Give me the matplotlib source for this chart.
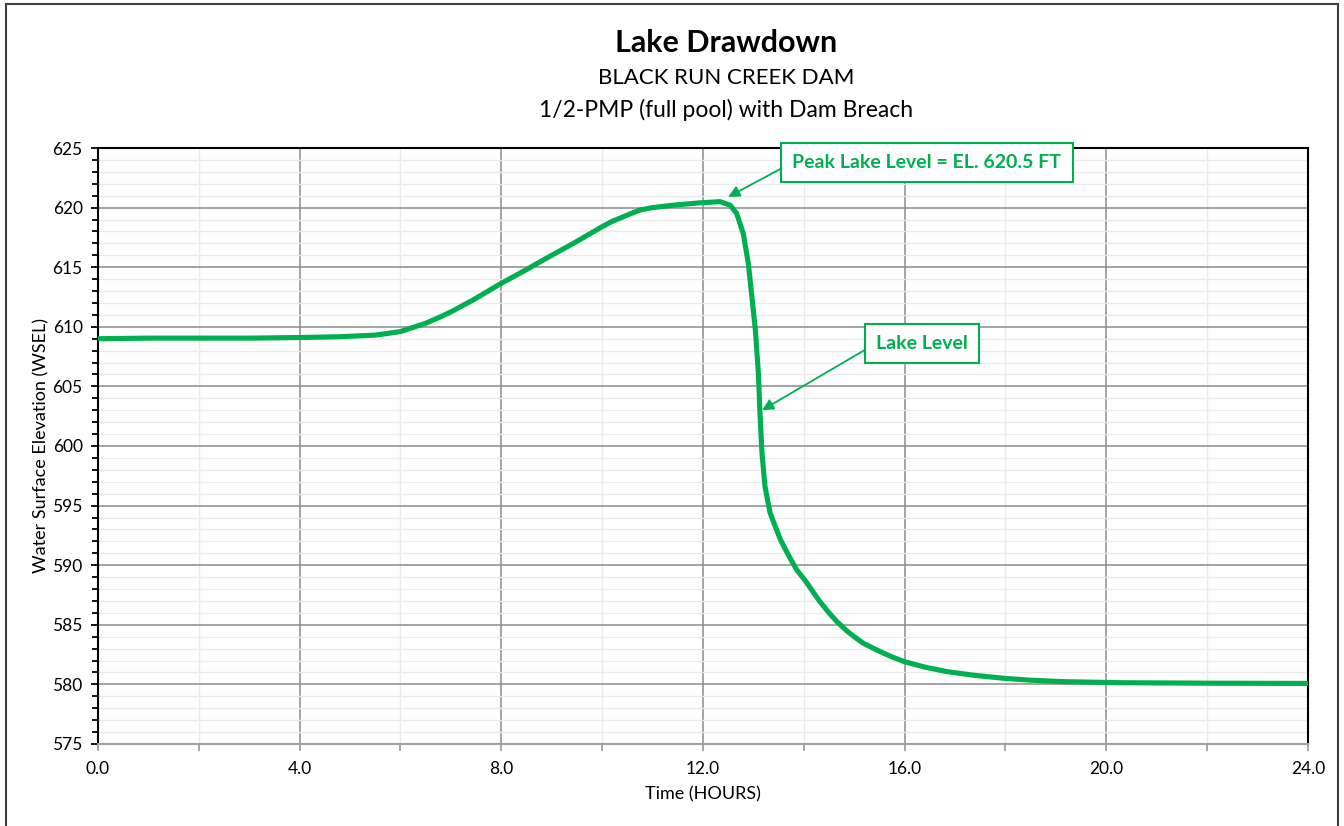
import matplotlib
matplotlib.use('Agg')
import matplotlib.pyplot as plt
from matplotlib.ticker import MultipleLocator, FormatStrFormatter
from matplotlib.lines import Line2D

plt.rcParams['font.family'] = ['Lato', 'DejaVu Sans']

# Lake level
hours = [0, 1, 2, 3, 4, 4.8, 5.5, 6.0, 6.5, 6.8, 7.0, 7.44, 8.0, 8.5, 8.77, 9.0,
         9.43, 10.0, 10.2, 10.4, 10.6, 10.75, 11.0, 11.4, 11.94, 12.34, 12.54,
         12.67, 12.8, 12.9, 12.97, 13.04, 13.1, 13.13, 13.17, 13.23, 13.33,
         13.53, 13.7, 13.86, 14.03, 14.3, 14.5, 14.66, 14.85, 15.0, 15.18, 15.5,
         15.75, 16.0, 16.4, 16.84, 17.4, 18.0, 18.5, 19.15, 20.3, 22, 24]
wsel = [609.0, 609.05, 609.05, 609.05, 609.1, 609.17, 609.3, 609.6, 610.3, 610.85,
        611.25, 612.25, 613.65, 614.8, 615.46, 616.0, 617.0, 618.4, 618.85, 619.2,
        619.55, 619.8, 620.0, 620.2, 620.4, 620.5, 620.2, 619.5, 617.8, 615.3,
        612.5, 609.7, 606.0, 602.8, 599.4, 596.6, 594.4, 592.2, 590.8, 589.6,
        588.7, 587.05, 586.0, 585.25, 584.5, 584.0, 583.45, 582.78, 582.3, 581.9,
        581.45, 581.07, 580.75, 580.5, 580.35, 580.23, 580.14, 580.1, 580.08]

peak_label = 'Peak Lake Level = EL. 620.5 FT'
peak_xy = (12.5, 620.9)
peak_text_xy = (16.44, 623.78)
level_label = 'Lake Level'
level_xy = (13.17, 603.0)
level_text_xy = (16.34, 608.6)

green = '#00B050'

fig = plt.figure(figsize=(13.44, 8.26), dpi=100)
ax = fig.add_axes([0.0729, 0.0993, 0.9003, 0.7215])

ax.plot(hours, wsel, color=green, lw=3.7, solid_joinstyle='round', zorder=3)

ax.set_xlim(0, 24)
ax.set_ylim(575, 625)
ax.xaxis.set_major_locator(MultipleLocator(4))
ax.xaxis.set_minor_locator(MultipleLocator(2))
ax.yaxis.set_major_locator(MultipleLocator(5))
ax.yaxis.set_minor_locator(MultipleLocator(1))
ax.xaxis.set_major_formatter(FormatStrFormatter('%.1f'))

ax.set_axisbelow(True)
ax.grid(which='major', axis='both', color='#8c8c8c', lw=1.1)
ax.grid(which='minor', axis='both', color='#ebebeb', lw=1.0)

for side in ['left', 'top', 'right']:
    ax.spines[side].set_color('black')
    ax.spines[side].set_linewidth(1.5)
ax.spines['bottom'].set_color('#a0a0a0')
ax.spines['bottom'].set_linewidth(1.5)

ax.tick_params(axis='y', which='both', direction='out', color='black', width=1.3,
               labelsize=12.5, pad=6)
ax.tick_params(axis='y', which='major', length=5)
ax.tick_params(axis='y', which='minor', length=4)
ax.tick_params(axis='x', which='both', direction='out', color='#a0a0a0', width=1.3,
               length=5, labelsize=12.5, pad=7)

ax.set_xlabel('Time (HOURS)', fontsize=13, labelpad=7)
ax.set_ylabel('Water Surface Elevation (WSEL)', fontsize=13, labelpad=2)

box = dict(boxstyle='square,pad=0.58', fc='white', ec=green, lw=1.5)
arrow = dict(arrowstyle='-|>', color=green, lw=1.3, mutation_scale=17,
             relpos=(0, 0.5), shrinkA=0, shrinkB=0)
ax.annotate(peak_label, xy=peak_xy, xytext=peak_text_xy, ha='center', va='center',
            fontsize=14, fontweight='bold', color=green, bbox=box, arrowprops=arrow,
            zorder=5)
ax.annotate(level_label, xy=level_xy, xytext=level_text_xy, ha='center', va='center',
            fontsize=14, fontweight='bold', color=green, bbox=box, arrowprops=arrow,
            zorder=5)

fig.text(0.540, 0.948, 'Lake Drawdown', ha='center', va='center', fontsize=22,
         fontweight='bold')
fig.text(0.540, 0.906, 'BLACK RUN CREEK DAM', ha='center', va='center', fontsize=16)
fig.text(0.540, 0.867, '1/2-PMP (full pool) with Dam Breach', ha='center', va='center',
         fontsize=16.5)

# outer chart border (bottom edge is cut off in the reference)
bx0, bx1, by1 = 6 / 1344, 1338 / 1344, 1 - 4 / 826
for xs, ys in [([bx0, bx0], [-0.01, by1]), ([bx0, bx1], [by1, by1]), ([bx1, bx1], [by1, -0.01])]:
    fig.add_artist(Line2D(xs, ys, color='#404040', lw=1.5, transform=fig.transFigure))

fig.savefig('out.png', dpi=100)
